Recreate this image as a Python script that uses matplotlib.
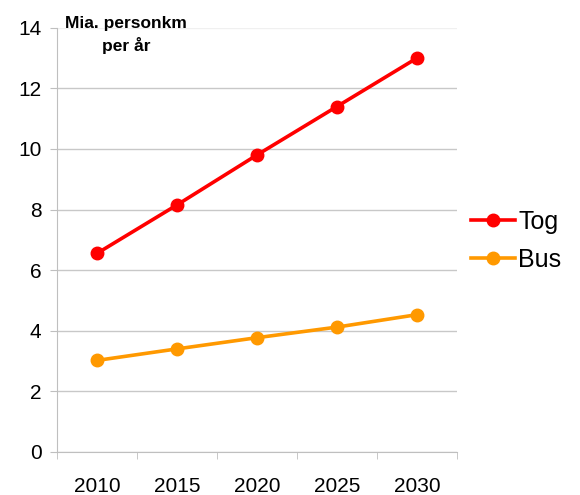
import numpy as np
import matplotlib
matplotlib.use('Agg')
import matplotlib.pyplot as plt

plt.rcParams['font.family'] = ['Liberation Sans', 'DejaVu Sans']

years = ['2010', '2015', '2020', '2025', '2030']
tog = [6.55, 8.15, 9.8, 11.4, 13.0]
bus = [3.02, 3.4, 3.77, 4.12, 4.53]
yticks = [0, 2, 4, 6, 8, 10, 12, 14]

fig = plt.figure(figsize=(5.8, 4.95), dpi=100)
ax = fig.add_axes([0.098, 0.087, 0.690, 0.857])

x = np.arange(len(years))
ax.plot(x, tog, color='#ff0000', lw=2.6, marker='o', ms=9, label='Tog')
ax.plot(x, bus, color='#ff9900', lw=2.6, marker='o', ms=9, label='Bus')

ax.set_xlim(-0.5, len(years) - 0.5)
ax.set_ylim(0, 14)
ax.set_yticks(yticks)
ax.set_xticks(x)
ax.set_xticklabels(years)
ax.set_xticks(np.arange(len(years) + 1) - 0.5, minor=True)
ax.tick_params(axis='x', which='major', length=0, labelsize=15, pad=18)
ax.tick_params(axis='x', which='minor', length=5, color='#bfbfbf', direction='out')
ax.tick_params(axis='y', labelsize=15, length=5, color='#bfbfbf', pad=6)

ax.grid(axis='y', color='#c8c8c8', lw=1)
ax.get_ygridlines()[-1].set_color('#f0f0f0')
ax.set_axisbelow(True)
for s in ['top', 'right']:
    ax.spines[s].set_visible(False)
for s in ['left', 'bottom']:
    ax.spines[s].set_color('#bfbfbf')

fig.text(0.217, 0.968, 'Mia. personkm\nper år', ha='center', va='top',
         fontsize=12.5, fontweight='bold', linespacing=1.45)

ax.legend(loc='center left', bbox_to_anchor=(1.0, 0.498), frameon=False,
          fontsize=18, handlelength=1.75, handletextpad=0.15, labelspacing=0.55,
          borderaxespad=0.15)

fig.savefig('out.png', dpi=100)
